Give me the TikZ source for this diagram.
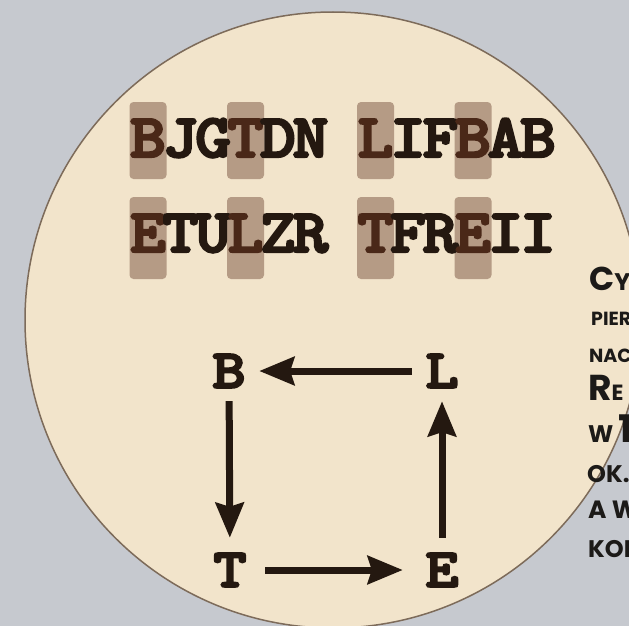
\documentclass[tikz,border=0pt]{standalone}
\usepackage{fontspec}
\usepackage{graphicx}
\usetikzlibrary{arrows.meta}
\newfontfamily\typew{lmmonolt10-bold.otf}[FakeBold=3.5]
\newfontfamily\geo{Poppins}
\definecolor{bgc}{RGB}{198,201,207}
\definecolor{disc}{RGB}{242,228,203}
\definecolor{rim}{RGB}{125,107,90}
\definecolor{hlc}{RGB}{181,155,133}
\definecolor{ink}{RGB}{36,24,16}
\definecolor{hink}{RGB}{74,40,24}
\definecolor{pink}{RGB}{28,26,24}
\newcommand{\twl}[1]{\scalebox{1.1}[1]{#1}}
\tikzset{
  hl/.style={fill=hlc, rounded corners=4pt},
  tw/.style={anchor=base, inner sep=0pt, font=\typew\fontsize{62pt}{62pt}\selectfont},
  big/.style={font=\typew\fontsize{55pt}{55pt}\selectfont, text=ink,
    minimum width=60pt, minimum height=60pt, inner sep=0pt},
  arr/.style={draw=ink, line width=7pt, -{Stealth[length=35pt,width=28pt,inset=4pt]}},
  para/.style={anchor=base west, inner sep=0pt, text=pink, font=\geo\bfseries}
}
\begin{document}
\begin{tikzpicture}[x=1pt,y=-1pt]
\useasboundingbox (0,0) rectangle (629,626);
\clip (0,0) rectangle (629,626);
\fill[bgc] (0,0) rectangle (629,626);
\fill[disc] (333,320) circle[radius=308];
\draw[rim, line width=1.5pt] (333,320) circle[radius=308];
% highlights
\foreach \c in {148,245.5,375.5,473}{
  \fill[hl] (\c-18.5,102) rectangle (\c+18.5,179);
  \fill[hl] (\c-18.5,197) rectangle (\c+18.5,279);
}
% rows of letters
\foreach \ch/\col [count=\i from 0] in {B/hink,J/ink,G/ink,T/hink,D/ink,N/ink}
  \node[tw, text=\col] (ra\i) at (148+\i*32.5,157) {\twl{\ch}};
\foreach \ch/\col [count=\i from 0] in {L/hink,I/ink,F/ink,B/hink,A/ink,B/ink}
  \node[tw, text=\col] (rb\i) at (375.5+\i*32.5,157) {\twl{\ch}};
\foreach \ch/\col [count=\i from 0] in {E/hink,T/ink,U/ink,L/hink,Z/ink,R/ink}
  \node[tw, text=\col] (rc\i) at (148+\i*32.5,252) {\twl{\ch}};
\foreach \ch/\col [count=\i from 0] in {T/hink,F/ink,R/ink,E/hink,I/ink,I/ink}
  \node[tw, text=\col] (rd\i) at (375.5+\i*32.5,252) {\twl{\ch}};
% cycle diagram
\node[big] (B) at (229,371) {\scalebox{1.15}[1]{B}};
\node[big] (L) at (442,371) {\scalebox{1.15}[1]{L}};
\node[big] (T) at (230,570) {\scalebox{1.15}[1]{T}};
\node[big] (E) at (442,570) {\scalebox{1.15}[1]{E}};
\draw[arr] (L) -- (B);
\draw[arr, shorten >=2pt] (B) -- (T);
\draw[arr, shorten <=5pt, shorten >=9pt] (T) -- (E);
\draw[arr, shorten <=2pt] (E) -- (L);
% clipped paragraph on the right
\node[para] (p1) at (589,290) {\fontsize{33pt}{33pt}\selectfont C\fontsize{24pt}{24pt}\selectfont Y};
\node[para] (p2) at (591,325) {\fontsize{19pt}{19pt}\selectfont PIER};
\node[para] (p3) at (589,362) {\fontsize{19pt}{19pt}\selectfont NAC};
\node[para] (p4) at (588,400) {\fontsize{36pt}{36pt}\selectfont R\fontsize{22pt}{22pt}\selectfont E};
\node[para] (p5) at (588,442) {\fontsize{24pt}{24pt}\selectfont W \fontsize{38pt}{38pt}\selectfont 1};
\node[para] (p6) at (587,482) {\fontsize{24pt}{24pt}\selectfont OK.};
\node[para] (p7) at (588,518) {\fontsize{25pt}{25pt}\selectfont A W};
\node[para] (p8) at (588,557) {\fontsize{24pt}{24pt}\selectfont KON};
\end{tikzpicture}
\end{document}
